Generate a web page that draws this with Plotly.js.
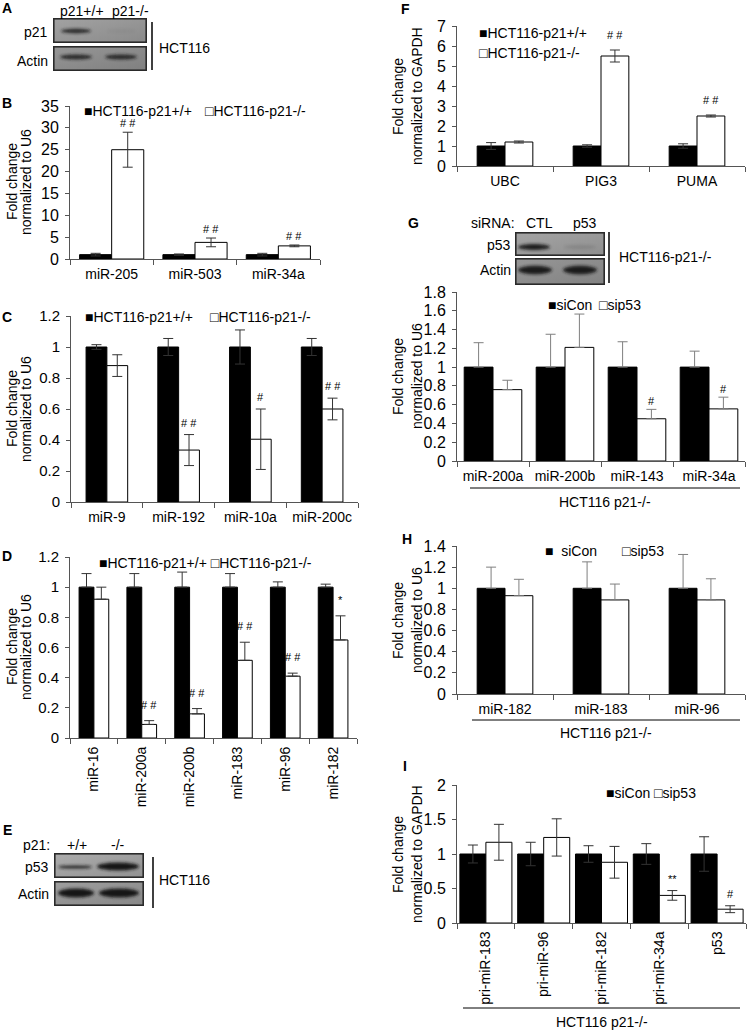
<!DOCTYPE html>
<html><head><meta charset="utf-8">
<script src="https://cdn.plot.ly/plotly-3.0.1.min.js"></script>
<style>html,body{margin:0;padding:0;background:#fff;}#chart{width:750px;height:1033px;}</style>
</head><body><div id="chart"></div>
<script>
// ---------------- DATA ----------------
const seriesP21 = ['HCT116-p21+/+', 'HCT116-p21-/-'];
const seriesSi = ['siCon', 'sip53'];

// Panel B
const catsB = ['miR-205', 'miR-503', 'miR-34a'];
const wtB = [1, 1, 1];
const wtErrB = [0.3, 0.15, 0.3];
const koB = [25, 3.8, 3.0];
const koErrB = [4, 1, 0.2];
const sigB = ['# #', '# #', '# #'];
const ticksB = [0, 5, 10, 15, 20, 25, 30, 35];

// Panel C
const catsC = ['miR-9', 'miR-192', 'miR-10a', 'miR-200c'];
const wtC = [1, 1, 1, 1];
const wtErrC = [0.015, 0.055, 0.11, 0.055];
const koC = [0.88, 0.335, 0.405, 0.6];
const koErrC = [0.07, 0.1, 0.195, 0.07];
const sigC = ['', '# #', '#', '# #'];
const ticksC = [0, 0.2, 0.4, 0.6, 0.8, 1, 1.2];

// Panel D
const catsD = ['miR-16', 'miR-200a', 'miR-200b', 'miR-183', 'miR-96', 'miR-182'];
const wtD = [1, 1, 1, 1, 1, 1];
const wtErrD = [0.09, 0.09, 0.1, 0.09, 0.035, 0.02];
const koD = [0.92, 0.09, 0.16, 0.515, 0.41, 0.65];
const koErrD = [0.08, 0.025, 0.035, 0.12, 0.02, 0.16];
const sigD = ['', '# #', '# #', '# #', '# #', '*'];
const ticksD = [0, 0.2, 0.4, 0.6, 0.8, 1, 1.2];

// Panel F
const catsF = ['UBC', 'PIG3', 'PUMA'];
const wtF = [1, 1, 1];
const wtErrF = [0.17, 0.06, 0.11];
const koF = [1.2, 5.5, 2.5];
const koErrF = [0.05, 0.3, 0.05];
const sigF = ['', '# #', '# #'];
const ticksF = [0, 1, 2, 3, 4, 5, 6, 7];

// Panel G
const catsG = ['miR-200a', 'miR-200b', 'miR-143', 'miR-34a'];
const siConG = [1, 1, 1, 1];
const siConErrG = [0.26, 0.35, 0.27, 0.17];
const sip53G = [0.76, 1.21, 0.45, 0.555];
const sip53ErrG = [0.1, 0.355, 0.1, 0.125];
const sigG = ['', '', '#', '#'];
const ticksG = [0, 0.2, 0.4, 0.6, 0.8, 1, 1.2, 1.4, 1.6, 1.8];

// Panel H
const catsH = ['miR-182', 'miR-183', 'miR-96'];
const siConH = [1, 1, 1];
const siConErrH = [0.2, 0.25, 0.32];
const sip53H = [0.93, 0.89, 0.89];
const sip53ErrH = [0.155, 0.15, 0.2];
const ticksH = [0, 0.2, 0.4, 0.6, 0.8, 1, 1.2, 1.4];

// Panel I
const catsI = ['pri-miR-183', 'pri-miR-96', 'pri-miR-182', 'pri-miR-34a', 'p53'];
const siConI = [1, 1, 1, 1, 1];
const siConErrI = [0.13, 0.17, 0.12, 0.15, 0.25];
const sip53I = [1.17, 1.24, 0.88, 0.4, 0.2];
const sip53ErrI = [0.26, 0.27, 0.23, 0.07, 0.05];
const sigI = ['', '', '', '**', '#'];
const ticksI = [0, 0.5, 1, 1.5, 2];

// Western blots (band intensity per row x lane)
const blotA_lanes = ['p21+/+', 'p21-/-'];
const blotA_rows = ['p21', 'Actin'];
const blotA_int = [[0.85, 0.04], [0.85, 0.85]];
const blotE_lanes = ['+/+', '-/-'];
const blotE_rows = ['p53', 'Actin'];
const blotE_int = [[0.9, 1.0], [1.0, 1.0]];
const blotG_lanes = ['CTL', 'p53'];
const blotG_rows = ['p53', 'Actin'];
const blotG_int = [[0.95, 0.12], [0.95, 0.95]];

// ---------------- DRAWING ----------------
const W = 750, H = 1033;
const FONT = '"Liberation Sans", Arial, Helvetica, sans-serif';
const NARROW = '"Liberation Sans Narrow", "Arial Narrow", "Liberation Sans", Arial, sans-serif';
const AX = '#555555';
const fx = p => p / W;
const fy = p => 1 - p / H;
const traces = [];
const anns = [];
const shapes = [];
const images = [];
const layout = {
  width: W, height: H, margin: {l: 0, r: 0, t: 0, b: 0},
  paper_bgcolor: '#fff', plot_bgcolor: 'rgba(0,0,0,0)',
  showlegend: false, barmode: 'overlay',
  font: {family: FONT, size: 14, color: '#000'}
};

function txt(x, y, text, o) {
  anns.push(Object.assign({xref: 'paper', yref: 'paper', x: fx(x), y: fy(y), text: text,
    showarrow: false, xanchor: 'left', yanchor: 'middle',
    font: {family: FONT, size: 14, color: '#000'}}, o || {}));
}
function ax(n) { return n === 1 ? '' : String(n); }

function panel(n, dom, cats, names, v1, e1, v2, e2, ticks, w, st) {
  const xa = 'x' + ax(n), ya = 'y' + ax(n);
  layout['xaxis' + ax(n)] = {
    domain: [fx(dom.x0), fx(dom.x1)], anchor: ya, type: 'category',
    range: [-0.5, cats.length - 0.5], showline: true, linecolor: AX, linewidth: 1,
    ticks: 'outside', tickson: 'boundaries', ticklen: 5, tickcolor: AX, tickwidth: 1,
    showgrid: false, zeroline: false, tickangle: st.angle || 0, ticklabelstandoff: 2,
    tickfont: {family: FONT, size: 14, color: '#000'}, fixedrange: true
  };
  layout['yaxis' + ax(n)] = {
    domain: [fy(dom.y1), fy(dom.y0)], anchor: xa,
    range: [0, ticks[ticks.length - 1]], tickmode: 'array', tickvals: ticks,
    ticktext: ticks.map(String), showline: true, linecolor: AX, linewidth: 1,
    ticks: 'outside', ticklen: 4, tickcolor: AX, tickwidth: 1, ticklabelstandoff: 3,
    showgrid: false, zeroline: false,
    tickfont: {family: FONT, size: st.tf || 15, color: '#000'}, fixedrange: true
  };
  const mk = (vals, errs, fill, name, off) => ({
    type: 'bar', name: name, x: cats, y: vals, xaxis: xa, yaxis: ya,
    width: w, offset: off,
    marker: {color: fill, line: {color: '#000', width: 1}},
    error_y: st.sym
      ? {type: 'data', array: errs, visible: true, color: st.ec, thickness: 1, width: 5}
      : {type: 'data', symmetric: false, array: errs, arrayminus: errs.map(() => 0),
         visible: true, color: st.ec, thickness: 1, width: 5},
    showlegend: false, hoverinfo: 'skip'
  });
  traces.push(mk(v1, e1, '#000', names[0], -w));
  traces.push(mk(v2, e2, '#fff', names[1], 0));
  if (st.sig) {
    st.sig.forEach((s, i) => {
      if (!s) return;
      anns.push({xref: xa, yref: ya, x: i + w / 2, y: v2[i] + e2[i], text: s,
        showarrow: false, xanchor: 'center', yanchor: 'bottom', yshift: st.shift,
        font: {family: FONT, size: 11, color: '#000'}});
    });
  }
}

panel(1, {x0: 70, x1: 320, y0: 106, y1: 259}, catsB, seriesP21, wtB, wtErrB, koB, koErrB, ticksB, 0.385,
  {sym: true, ec: '#333', sig: sigB, shift: 1, tf: 16});
panel(2, {x0: 71, x1: 358, y0: 316, y1: 502}, catsC, seriesP21, wtC, wtErrC, koC, koErrC, ticksC, 0.29,
  {sym: true, ec: '#333', sig: sigC, shift: 4, tf: 15});
panel(3, {x0: 70, x1: 357, y0: 557, y1: 738}, catsD, seriesP21, wtD, wtErrD, koD, koErrD, ticksD, 0.31,
  {sym: false, ec: '#333', sig: sigD, shift: 8, angle: -90, tf: 15});
panel(4, {x0: 457, x1: 745, y0: 26, y1: 166}, catsF, seriesP21, wtF, wtErrF, koF, koErrF, ticksF, 0.29,
  {sym: true, ec: '#333', sig: sigF, shift: 7, tf: 16});
panel(5, {x0: 457, x1: 745, y0: 292, y1: 461}, catsG, seriesSi, siConG, siConErrG, sip53G, sip53ErrG, ticksG, 0.40,
  {sym: false, ec: '#7f7f7f', sig: sigG, shift: 0, tf: 16});
panel(6, {x0: 457, x1: 745, y0: 546, y1: 694}, catsH, seriesSi, siConH, siConErrH, sip53H, sip53ErrH, ticksH, 0.29,
  {sym: false, ec: '#7f7f7f', tf: 16});
panel(7, {x0: 457, x1: 746, y0: 785, y1: 923}, catsI, seriesSi, siConI, siConErrI, sip53I, sip53ErrI, ticksI, 0.45,
  {sym: true, ec: '#333', sig: sigI, shift: 4, angle: -90, tf: 16});

// y-axis titles (two lines each)
function ytitle(x1, x2, yc, l1, l2) {
  txt(x1, yc, l1, {textangle: -90, xanchor: 'center', yanchor: 'middle'});
  txt(x2, yc, l2, {textangle: -90, xanchor: 'center', yanchor: 'middle'});
}
ytitle(12, 26, 182, 'Fold change', 'normalized to U6');
ytitle(12, 26, 409, 'Fold change', 'normalized to U6');
ytitle(12, 26, 647, 'Fold change', 'normalized to U6');
ytitle(398, 417, 96, 'Fold change', 'normalized to GAPDH');
ytitle(398, 417, 376, 'Fold change', 'normalized to U6');
ytitle(398, 417, 620, 'Fold change', 'normalized to U6');
ytitle(398, 417, 854, 'Fold change', 'normalized to GAPDH');

// legends
const BLK = '\u25A0', WHT = '\u25A1', SP = '\u00a0';
txt(82, 111, BLK + seriesP21[0]); txt(203, 111, WHT + seriesP21[1]);
txt(83, 317, BLK + seriesP21[0]); txt(208, 317, WHT + seriesP21[1]);
txt(97, 563, BLK + seriesP21[0] + SP + WHT + seriesP21[1], {font: {family: NARROW, size: 14, color: '#000'}});
txt(477, 33, BLK + seriesP21[0]); txt(477, 53, WHT + seriesP21[1]);
txt(546, 305, BLK + seriesSi[0]); txt(597, 305, WHT + seriesSi[1]);
txt(543, 551, BLK + SP + SP + seriesSi[0]); txt(620, 551, WHT + seriesSi[1]);
txt(604, 793, BLK + seriesSi[0]); txt(652, 793, WHT + seriesSi[1]);

// panel letters
[['A', 7, 8], ['B', 7, 103], ['C', 7, 317], ['D', 7, 556], ['E', 7, 830],
 ['F', 405, 9], ['G', 413, 223], ['H', 407, 539], ['I', 405, 766]].forEach(l =>
  txt(l[1], l[2], '<b>' + l[0] + '</b>', {xanchor: 'center'}));

// group underlines and labels
function group(x0, x1, y, ylab, label) {
  shapes.push({type: 'line', xref: 'paper', yref: 'paper', x0: fx(x0), x1: fx(x1), y0: fy(y), y1: fy(y),
    line: {color: '#000', width: 1}});
  txt((x0 + x1) / 2, ylab, label, {xanchor: 'center'});
}
group(470, 740, 488, 502, 'HCT116 p21-/-');
group(472, 740, 720, 733, 'HCT116 p21-/-');
group(463, 740, 1008, 1022, 'HCT116 p21-/-');

// Western blot drawing
function blotRow(x, y, w, h, bg, bands) {
  let s = "<svg xmlns='http://www.w3.org/2000/svg' width='" + w + "' height='" + h + "' viewBox='0 0 " + w + " " + h + "'>" +
    "<defs><filter id='b' x='-30%' y='-100%' width='160%' height='300%'><feGaussianBlur stdDeviation='1.4'/></filter>" +
    "<linearGradient id='g' x1='0' y1='0' x2='1' y2='1'><stop offset='0' stop-color='" + bg[0] + "'/><stop offset='1' stop-color='" + bg[1] + "'/></linearGradient></defs>" +
    "<rect x='0.8' y='0.8' width='" + (w - 1.6) + "' height='" + (h - 1.6) + "' fill='url(#g)' stroke='#2a2a2a' stroke-width='1.6'/>";
  bands.forEach(b => {
    s += "<ellipse cx='" + b.cx + "' cy='" + b.cy + "' rx='" + b.rx + "' ry='" + b.ry + "' fill='#141414' opacity='" + b.op + "' filter='url(#b)'/>";
  });
  s += "</svg>";
  images.push({source: 'data:image/svg+xml;charset=utf-8,' + encodeURIComponent(s),
    xref: 'paper', yref: 'paper', x: fx(x), y: fy(y), sizex: w / W, sizey: h / H,
    xanchor: 'left', yanchor: 'top', sizing: 'stretch', layer: 'above'});
}
function vline(x, y0, y1) {
  shapes.push({type: 'line', xref: 'paper', yref: 'paper', x0: fx(x), x1: fx(x), y0: fy(y0), y1: fy(y1),
    line: {color: '#000', width: 1.5}});
}

// A
txt(82, 11, blotA_lanes[0], {xanchor: 'center'});
txt(130, 11, blotA_lanes[1], {xanchor: 'center'});
blotRow(53, 18, 94, 25, ['#a2a2a2', '#8a8a8a'], [
  {cx: 23, cy: 13, rx: 15, ry: 2.2, op: blotA_int[0][0]},
  {cx: 68, cy: 13, rx: 15, ry: 2.2, op: blotA_int[0][1]}]);
blotRow(53, 46, 94, 25, ['#969696', '#808080'], [
  {cx: 23, cy: 11, rx: 16, ry: 2.4, op: blotA_int[1][0]},
  {cx: 68, cy: 11, rx: 16, ry: 2.4, op: blotA_int[1][1]}]);
txt(50, 32, blotA_rows[0], {xanchor: 'right'});
txt(50, 61, blotA_rows[1], {xanchor: 'right'});
vline(152, 22, 70);
txt(157, 48, 'HCT116');

// E
txt(52, 845, 'p21:', {xanchor: 'right'});
txt(77, 845, blotE_lanes[0], {xanchor: 'center'});
txt(118, 845, blotE_lanes[1], {xanchor: 'center'});
blotRow(54, 853, 90, 25, ['#acacac', '#929292'], [
  {cx: 21, cy: 14, rx: 17, ry: 1.6, op: blotE_int[0][0]},
  {cx: 64, cy: 13.5, rx: 21, ry: 4, op: blotE_int[0][1]}]);
blotRow(54, 881, 90, 25, ['#9e9e9e', '#888888'], [
  {cx: 22, cy: 12, rx: 18, ry: 4.5, op: blotE_int[1][0]},
  {cx: 65, cy: 12, rx: 20, ry: 4.5, op: blotE_int[1][1]}]);
txt(51, 867, blotE_rows[0], {xanchor: 'right'});
txt(51, 894, blotE_rows[1], {xanchor: 'right'});
vline(153, 857, 908);
txt(157, 880, 'HCT116');

// G blot
txt(517, 223, 'siRNA:', {xanchor: 'right'});
txt(539, 223, blotG_lanes[0], {xanchor: 'center'});
txt(585, 223, blotG_lanes[1], {xanchor: 'center'});
blotRow(515, 232, 90, 24, ['#a4a4a4', '#8f8f8f'], [
  {cx: 19, cy: 15, rx: 16, ry: 3, op: blotG_int[0][0]},
  {cx: 65, cy: 15, rx: 16, ry: 2, op: blotG_int[0][1]}]);
blotRow(515, 258, 90, 27, ['#969696', '#828282'], [
  {cx: 20, cy: 12, rx: 17, ry: 4.2, op: blotG_int[1][0]},
  {cx: 65, cy: 12, rx: 17, ry: 4.2, op: blotG_int[1][1]}]);
txt(513, 245, blotG_rows[0], {xanchor: 'right'});
txt(513, 270, blotG_rows[1], {xanchor: 'right'});
vline(609, 232, 283);
txt(617, 257, 'HCT116-p21-/-');

layout.annotations = anns;
layout.shapes = shapes;
layout.images = images;

Plotly.newPlot('chart', traces, layout, {staticPlot: true, displayModeBar: false});
</script></body></html>
